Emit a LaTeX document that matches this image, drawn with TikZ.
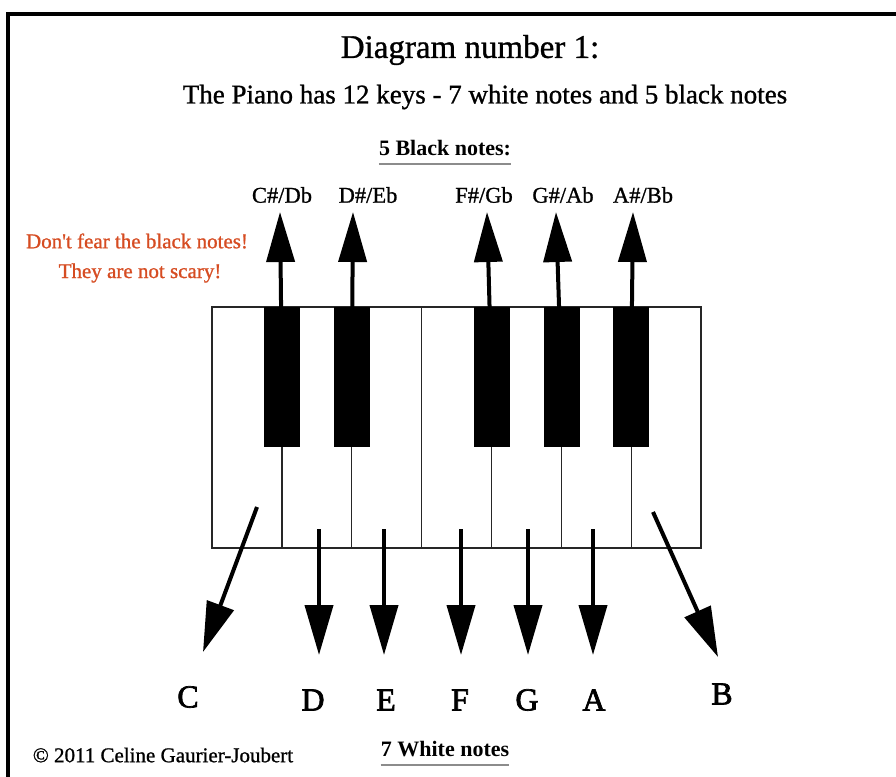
\documentclass[tikz,border=0pt]{standalone}
\usepackage{fontspec}
\setmainfont{Liberation Serif}
\newfontfamily\thick[FakeBold=1.0]{Liberation Serif}
\newfontfamily\thicker[FakeBold=2.2]{Liberation Serif}
\usetikzlibrary{arrows.meta}
\definecolor{warn}{RGB}{214,76,34}
\begin{document}
\begin{tikzpicture}[x=1pt,y=-1pt,
  whitekey/.style={draw=black!85,line width=1.3pt,fill=white,minimum width=69.86pt,minimum height=241pt,inner sep=0pt,outer sep=0pt,anchor=north west},
  blackkey/.style={draw=black,fill=black,minimum width=35pt,minimum height=139pt,inner sep=0pt,outer sep=0pt,anchor=north},
  notearrow/.style={line width=4pt,-{Triangle[length=50pt,width=28pt]}},
  sharplabel/.style={font=\thick\fontsize{22.5}{24}\selectfont,inner sep=0pt},
  whitelabel/.style={font=\thicker\fontsize{32}{34}\selectfont,inner sep=0pt},
  heading/.style={font=\bfseries\fontsize{22}{24}\selectfont,inner sep=0pt},
  underl/.style={draw=black!45,line width=2.5pt},
  redtext/.style={text=warn,font=\thick\fontsize{21}{23}\selectfont,inner sep=0pt}
]
\useasboundingbox (0,0) rectangle (896,776);
% frame
\draw[line width=4pt] (8,790) -- (8,14) -- (910,14);

% titles
\node[font=\thick\fontsize{33}{35}\selectfont,inner sep=0pt] (title) at (470,50) {Diagram number 1:};
\node[font=\thick\fontsize{27}{29}\selectfont,inner sep=0pt] (subtitle) at (485,97) {The Piano has 12 keys - 7 white notes and 5 black notes};
\node[heading] (blackhead) at (445,148) {5 Black notes:};
\draw[underl] (blackhead.south west) ++(0,8) coordinate (bu1) -- (bu1 -| blackhead.south east);
\node[heading] (whitehead) at (445,749) {7 White notes};
\draw[underl] (whitehead.south west) ++(0,8) coordinate (wu1) -- (wu1 -| whitehead.south east);

% red remark
\node[redtext] (fear1) at (137,241) {Don't fear the black notes!};
\node[redtext] (fear2) at (140,273) {They are not scary!};

% copyright
\node[font=\thick\fontsize{21}{23}\selectfont,inner sep=0pt] (copy) at (163,755) {© 2011 Celine Gaurier-Joubert};

% white keys
\foreach \i/\n in {0/C,1/D,2/E,3/F,4/G,5/A,6/B}
  \node[whitekey] (w\n) at ({212+69.857*\i},307) {};
% black keys
\node[blackkey] (kCs) at ({212+69.857*1},307) {};
\node[blackkey] (kDs) at ({212+69.857*2},307) {};
\node[blackkey] (kFs) at ({212+69.857*4},307) {};
\node[blackkey] (kGs) at ({212+69.857*5},307) {};
\node[blackkey] (kAs) at ({212+69.857*6},307) {};

% black note labels and arrows
\node[sharplabel] (lCs) at (282,195) {C\#/Db};
\node[sharplabel] (lDs) at (368,195) {D\#/Eb};
\node[sharplabel] (lFs) at (484,195) {F\#/Gb};
\node[sharplabel] (lGs) at (563,195) {G\#/Ab};
\node[sharplabel] (lAs) at (643,195) {A\#/Bb};
\coordinate (tCs) at (280,212);
\coordinate (tDs) at (353,212);
\coordinate (tFs) at (487,212);
\coordinate (tGs) at (556,212);
\coordinate (tAs) at (633,212);
\foreach \n in {Cs,Ds,Fs,Gs,As}
  \draw[notearrow] (k\n.center) -- (t\n);

% white note labels and arrows
\node[whitelabel] (lC) at (188,697) {C};
\node[whitelabel] (lD) at (313,700) {D};
\node[whitelabel] (lE) at (386,700) {E};
\node[whitelabel] (lF) at (460,700) {F};
\node[whitelabel] (lG) at (527,700) {G};
\node[whitelabel] (lA) at (594,700) {A};
\node[whitelabel] (lB) at (722,694) {B};

\coordinate (sC) at (257,507);  \coordinate (tC) at (203,652);
\coordinate (sD) at (319,529);  \coordinate (tD) at (319,655);
\coordinate (sE) at (384,529);  \coordinate (tE) at (384,655);
\coordinate (sF) at (461,529);  \coordinate (tF) at (461,655);
\coordinate (sG) at (528,529);  \coordinate (tG) at (528,655);
\coordinate (sA) at (593,529);  \coordinate (tA) at (593,655);
\coordinate (sB) at (653,512);  \coordinate (tB) at (718,657);
\foreach \n in {C,D,E,F,G,A,B}
  \draw[notearrow] (s\n) -- (t\n);
\end{tikzpicture}
\end{document}
